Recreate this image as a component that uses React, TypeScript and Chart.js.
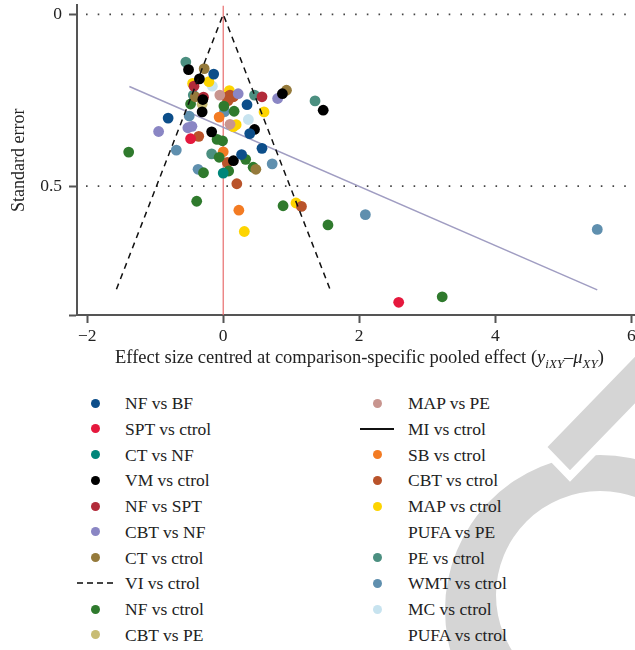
import React, { useEffect, useRef } from "react";
import { Chart, registerables } from "chart.js";

Chart.register(...registerables);

const FONT = '"Liberation Serif", "DejaVu Serif", "Times New Roman", serif';

// ---------- data (x = effect size centred, y = standard error) ----------
const NF_vs_BF = [[-0.14, 0.174], [-0.81, 0.302], [0.35, 0.263], [0.39, 0.347], [0.57, 0.39], [0.27, 0.408]];
const SPT_vs_ctrol = [[-0.48, 0.362], [2.58, 0.838]];
const CT_vs_NF = [[0.0, 0.462]];
const VM_vs_ctrol = [[-0.51, 0.161], [-0.35, 0.188], [-0.3, 0.248], [-0.31, 0.284], [-0.17, 0.342], [0.46, 0.335], [0.15, 0.426], [0.87, 0.231], [1.47, 0.279]];
const NF_vs_SPT = [[-0.43, 0.209], [-0.29, 0.241], [0.57, 0.24]];
const CBT_vs_NF = [[0.22, 0.231], [0.8, 0.245], [-0.95, 0.341], [-0.52, 0.33], [-0.46, 0.326]];
const CT_vs_ctrol = [[-0.28, 0.158], [-0.41, 0.24], [0.93, 0.221], [0.48, 0.451]];
const NF_vs_ctrol = [[-0.48, 0.261], [0.01, 0.267], [0.16, 0.282], [-0.09, 0.364], [-0.01, 0.368], [-1.39, 0.401], [-0.06, 0.416], [0.33, 0.422], [-0.29, 0.461], [0.08, 0.456], [0.44, 0.445], [-0.39, 0.544], [0.88, 0.557], [1.54, 0.613], [3.22, 0.822]];
const CBT_vs_PE = [[-0.31, 0.262]];
const MAP_vs_PE = [[-0.05, 0.235], [0.1, 0.32]];
const SB_vs_ctrol = [[-0.06, 0.299], [0.0, 0.4], [0.23, 0.57]];
const CBT_vs_ctrol = [[0.05, 0.241], [0.1, 0.235], [0.15, 0.24], [0.07, 0.251], [-0.36, 0.355], [0.06, 0.431], [0.2, 0.493], [1.15, 0.559]];
const MAP_vs_ctrol = [[-0.45, 0.201], [-0.21, 0.196], [0.09, 0.222], [0.6, 0.284], [0.15, 0.327], [0.19, 0.321], [0.31, 0.632], [1.07, 0.549]];
const PE_vs_ctrol = [[-0.55, 0.139], [-0.44, 0.235], [0.46, 0.235], [1.35, 0.252], [-0.17, 0.406]];
const WMT_vs_ctrol = [[-0.5, 0.296], [0.02, 0.283], [-0.69, 0.395], [0.72, 0.435], [-0.37, 0.451], [2.09, 0.583], [5.5, 0.626]];
const MC_vs_ctrol = [[-0.16, 0.209], [0.37, 0.306]];

// funnel (pseudo 95% limits), regression line, null line
const funnelX = [-1.57, 0, 1.57];
const funnelY = [0.8, 0, 0.8];
const regX = [-1.38, 5.5];
const regY = [0.21, 0.802];

const xTicks = [-2, 0, 2, 4, 6];
const yTicks = [0, 0.5];
const X_MIN = -2.15;
const X_MAX = 6.04;
const Y_MIN = -0.026;
const Y_MAX = 0.875;

type Entry = { label: string; color: string; kind: "point" | "dash" | "line" | "none"; pts?: number[][] };

const legendCol1: Entry[] = [
  { label: "NF vs BF", color: "#0c4e8a", kind: "point", pts: NF_vs_BF },
  { label: "SPT vs ctrol", color: "#e5183d", kind: "point", pts: SPT_vs_ctrol },
  { label: "CT vs NF", color: "#00867a", kind: "point", pts: CT_vs_NF },
  { label: "VM vs ctrol", color: "#000000", kind: "point", pts: VM_vs_ctrol },
  { label: "NF vs SPT", color: "#b22b3a", kind: "point", pts: NF_vs_SPT },
  { label: "CBT vs NF", color: "#8a86c4", kind: "point", pts: CBT_vs_NF },
  { label: "CT vs ctrol", color: "#957a3b", kind: "point", pts: CT_vs_ctrol },
  { label: "VI vs ctrol", color: "#444444", kind: "dash" },
  { label: "NF vs ctrol", color: "#2f7a2d", kind: "point", pts: NF_vs_ctrol },
  { label: "CBT vs PE", color: "#c8bc74", kind: "point", pts: CBT_vs_PE },
];
const legendCol2: Entry[] = [
  { label: "MAP vs PE", color: "#c8958f", kind: "point", pts: MAP_vs_PE },
  { label: "MI vs ctrol", color: "#111111", kind: "line" },
  { label: "SB vs ctrol", color: "#f37b23", kind: "point", pts: SB_vs_ctrol },
  { label: "CBT vs ctrol", color: "#b9532a", kind: "point", pts: CBT_vs_ctrol },
  { label: "MAP vs ctrol", color: "#fdd400", kind: "point", pts: MAP_vs_ctrol },
  { label: "PUFA vs PE", color: "#ffffff", kind: "none" },
  { label: "PE vs ctrol", color: "#4b8f80", kind: "point", pts: PE_vs_ctrol },
  { label: "WMT vs ctrol", color: "#5f8fae", kind: "point", pts: WMT_vs_ctrol },
  { label: "MC vs ctrol", color: "#c7e3ef", kind: "point", pts: MC_vs_ctrol },
  { label: "PUFA vs ctrol", color: "#ffffff", kind: "none" },
];

const minus = (v: number) => (v < 0 ? "\u2212" + Math.abs(v) : String(v));

// keep the plotting area flush with the right edge, as in the original figure
const PLOT_RIGHT = 634;
const fixArea = {
  id: "fixArea",
  afterLayout(chart: any) {
    const ca = chart.chartArea;
    const xs = chart.scales.x;
    ca.right = PLOT_RIGHT;
    ca.width = ca.right - ca.left;
    xs.right = PLOT_RIGHT;
    xs.width = xs.right - xs.left;
    xs.configure();
  },
};

export default function App() {
  const ref = useRef<HTMLCanvasElement | null>(null);

  useEffect(() => {
    const canvas = ref.current;
    if (!canvas) return;
    const pointSets = [...legendCol1, ...legendCol2].filter((e) => e.kind === "point");
    const datasets: any[] = [];
    datasets.push({
      type: "line",
      label: "funnel",
      data: funnelX.map((x, i) => ({ x, y: funnelY[i] })),
      borderColor: "#111",
      borderWidth: 1.5,
      borderDash: [6, 5],
      pointRadius: 0,
      fill: false,
      order: 0,
    });
    pointSets.forEach((e) => {
      datasets.push({
        type: "scatter",
        label: e.label,
        data: (e.pts || []).map((p) => ({ x: p[0], y: p[1] })),
        backgroundColor: e.color,
        borderColor: e.color,
        borderWidth: 0,
        pointRadius: 5.4,
        order: 1,
      });
    });
    datasets.push({
      type: "line",
      label: "regression",
      data: regX.map((x, i) => ({ x, y: regY[i] })),
      borderColor: "#a09dc2",
      borderWidth: 1.5,
      pointRadius: 0,
      fill: false,
      order: 2,
    });
    datasets.push({
      type: "line",
      label: "zero",
      data: [{ x: 0, y: Y_MIN }, { x: 0, y: Y_MAX }],
      borderColor: "#e86d6d",
      borderWidth: 1.2,
      pointRadius: 0,
      fill: false,
      order: 3,
    });
    yTicks.forEach((t) => {
      datasets.push({
        type: "line",
        label: "dots" + t,
        data: [{ x: X_MIN, y: t }, { x: X_MAX, y: t }],
        borderColor: "#444",
        borderWidth: 1.6,
        borderDash: [1.6, 10.1],
        borderDashOffset: -9,
        pointRadius: 0,
        fill: false,
        order: 4,
      });
    });

    const chart = new Chart(canvas, {
      type: "scatter",
      data: { datasets },
      plugins: [fixArea],
      options: {
        animation: false,
        responsive: false,
        layout: { padding: { top: 5, right: 0, left: 0, bottom: 0 } },
        plugins: { legend: { display: false }, tooltip: { enabled: false } },
        scales: {
          x: {
            type: "linear",
            min: X_MIN,
            max: X_MAX,
            afterBuildTicks: (s: any) => {
              s.ticks = xTicks.map((v) => ({ value: v }));
            },
            afterFit: (s: any) => {
              s.height = 60;
              s.paddingLeft = 0;
              s.paddingRight = 0;
            },
            grid: { drawOnChartArea: false, drawTicks: true, tickLength: 8, tickColor: "#555", tickWidth: 2 },
            border: { color: "#555", width: 2 },
            ticks: {
              color: "#222",
              font: { family: FONT, size: 17.5 },
              padding: 3,
              maxRotation: 0,
              callback: (v: any) => minus(Number(v)),
            },
          },
          y: {
            type: "linear",
            reverse: true,
            min: Y_MIN,
            max: Y_MAX,
            afterBuildTicks: (s: any) => {
              s.ticks = [...yTicks, Y_MAX].map((v) => ({ value: v }));
            },
            afterFit: (s: any) => {
              s.width = 77;
              s.paddingTop = 0;
              s.paddingBottom = 0;
            },
            grid: { drawOnChartArea: false, drawTicks: true, tickLength: 8, tickColor: "#555", tickWidth: 2 },
            border: { color: "#555", width: 2 },
            title: {
              display: true,
              text: "Standard error",
              color: "#222",
              font: { family: FONT, size: 18 },
              padding: { top: 8, bottom: 0 },
            },
            ticks: {
              color: "#222",
              font: { family: FONT, size: 17.5 },
              padding: 7,
              callback: (v: any) => (Number(v) === Y_MAX ? "" : String(v)),
            },
          },
        },
      },
    });
    return () => chart.destroy();
  }, []);

  const rowY = (i: number) => 403 + i * 25.75;

  const marker = (e: Entry, cx: number, cy: number) => {
    if (e.kind === "point")
      return (
        <div
          style={{
            position: "absolute",
            left: cx - 4.5,
            top: cy - 4.5,
            width: 9,
            height: 9,
            borderRadius: "50%",
            background: e.color,
          }}
        />
      );
    if (e.kind === "dash")
      return (
        <div
          style={{
            position: "absolute",
            left: cx - 18,
            top: cy - 1,
            width: 36,
            height: 0,
            borderTop: "2px dashed " + e.color,
          }}
        />
      );
    if (e.kind === "line")
      return (
        <div
          style={{
            position: "absolute",
            left: cx - 17,
            top: cy - 1,
            width: 34,
            height: 2,
            background: e.color,
          }}
        />
      );
    return null;
  };

  return (
    <div
      style={{
        position: "absolute",
        left: 0,
        top: 0,
        width: 635,
        height: 650,
        overflow: "hidden",
        background: "#fff",
        fontFamily: FONT,
        color: "#222",
      }}
    >
      <svg width={635} height={650} style={{ position: "absolute", left: 0, top: 0 }}>
        <path
          fillRule="evenodd"
          fill="#d5d5d5"
          d="M 755 610 A 155 155 0 1 0 445 610 A 155 155 0 1 0 755 610 Z M 704 595 A 104 104 0 1 0 496 595 A 104 104 0 1 0 704 595 Z"
        />
        <polygon points="542,447 700,284 728,313 570,476" fill="#d5d5d5" stroke="#ffffff" strokeWidth={8} strokeLinejoin="miter" />
      </svg>
      <canvas ref={ref} width={635} height={375} style={{ position: "absolute", left: 0, top: 0, width: 635, height: 375 }} />
      <div
        style={{
          position: "absolute",
          left: 115,
          top: 346,
          fontSize: 18.5,
          lineHeight: "22px",
          whiteSpace: "nowrap",
        }}
      >
        Effect size centred at comparison-specific pooled effect (
        <i>y</i>
        <sub style={{ fontSize: 13, lineHeight: 0 }}>
          <i>iXY</i>
        </sub>
        {"\u2013"}
        <i>μ</i>
        <sub style={{ fontSize: 13, lineHeight: 0 }}>
          <i>XY</i>
        </sub>
        )
      </div>
      {legendCol1.map((e, i) => (
        <React.Fragment key={"a" + i}>
          {marker(e, 95, rowY(i))}
          <div style={{ position: "absolute", left: 125, top: rowY(i) - 11, fontSize: 17.5, lineHeight: "22px", whiteSpace: "nowrap" }}>
            {e.label}
          </div>
        </React.Fragment>
      ))}
      {legendCol2.map((e, i) => (
        <React.Fragment key={"b" + i}>
          {marker(e, 377, rowY(i))}
          <div style={{ position: "absolute", left: 408, top: rowY(i) - 11, fontSize: 17.5, lineHeight: "22px", whiteSpace: "nowrap" }}>
            {e.label}
          </div>
        </React.Fragment>
      ))}
    </div>
  );
}
